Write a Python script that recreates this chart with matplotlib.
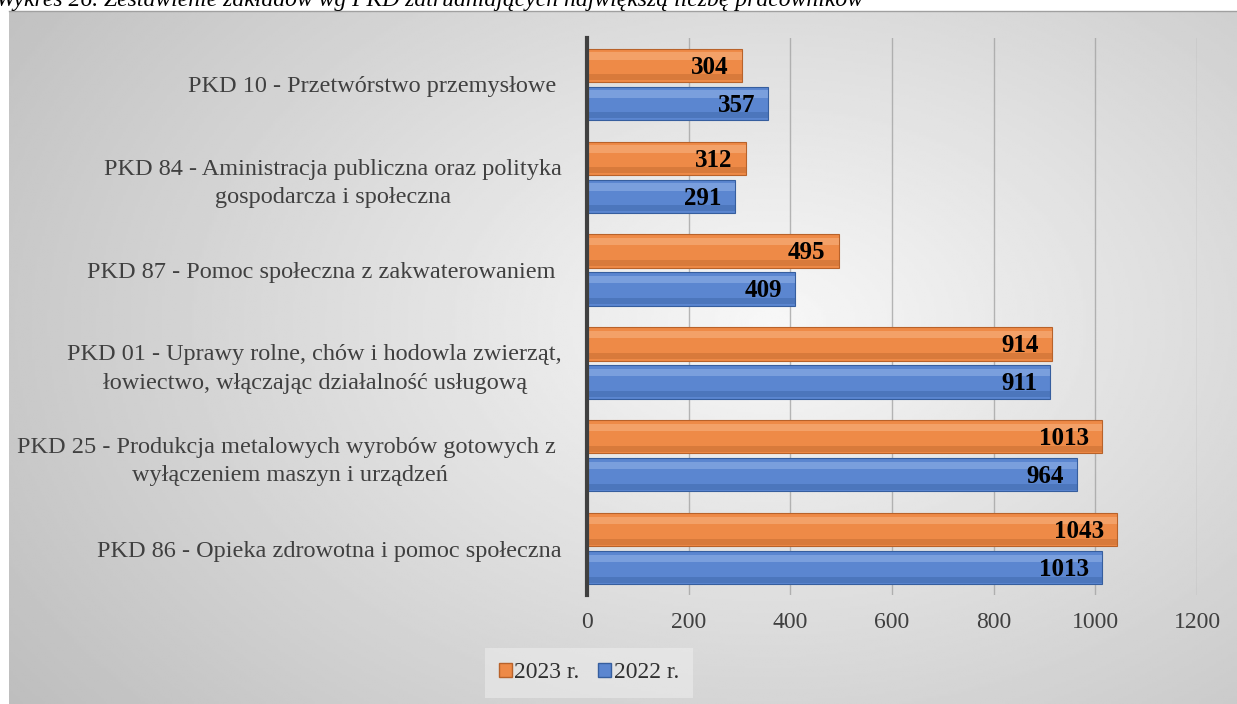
import numpy as np
import matplotlib
matplotlib.use("Agg")
import matplotlib.pyplot as plt
from matplotlib.patches import Patch

plt.rcParams['font.family'] = ['Liberation Serif', 'DejaVu Serif']

# Data (top to bottom as in the chart)
categories = [
    "PKD 10 - Przetwórstwo przemysłowe ",
    "PKD 84 - Aministracja publiczna oraz polityka\ngospodarcza i społeczna",
    "PKD 87 - Pomoc społeczna z zakwaterowaniem ",
    "PKD 01 - Uprawy rolne, chów i hodowla zwierząt,\nłowiectwo, włączając działalność usługową",
    "PKD 25 - Produkcja metalowych wyrobów gotowych z \nwyłączeniem maszyn i urządzeń",
    "PKD 86 - Opieka zdrowotna i pomoc społeczna",
]
values_2023 = [304, 312, 495, 914, 1013, 1043]
values_2022 = [357, 291, 409, 911, 964, 1013]
xticks = [0, 200, 400, 600, 800, 1000, 1200]

orange = "#EE8A47"
orange_hi = "#F8B27F"
orange_dk = "#B8622A"
blue = "#5B86D0"
blue_hi = "#8FB0E6"
blue_dk = "#365E9E"

fig = plt.figure(figsize=(12.37, 7.04), dpi=100)

# gray gradient background of the chart area
bg = fig.add_axes([9 / 1237, 0, 1 - 9 / 1237, 1 - 11 / 704])
yy, xx = np.mgrid[0:1:300j, 0:1:500j]
r = np.sqrt(((xx - 0.62) / 0.75) ** 2 + ((yy - 0.45) / 0.9) ** 2)
shade = np.clip(0.97 - 0.22 * r, 0.74, 0.97)
bg.imshow(shade, cmap="gray", vmin=0, vmax=1, aspect="auto", extent=[0, 1, 0, 1])
bg.set_xticks([])
bg.set_yticks([])
for s in ["left", "right", "bottom"]:
    bg.spines[s].set_visible(False)
bg.spines["top"].set_color("#a0a0a0")
bg.spines["top"].set_linewidth(1.0)

# caption, cut off at the top of the picture (as in the source)
fig.text(-0.003, 0.999, "Wykres 26. Zestawienie zakładów wg PKD zatrudniających największą liczbę pracowników",
         ha="left", va="center", fontsize=17, style="italic", color="black")

ax = fig.add_axes([587 / 1237, 1 - 595 / 704, (1197 - 587) / 1237, (595 - 38) / 704])
ax.patch.set_alpha(0)

y = np.arange(len(categories))
h = 0.36
off = 0.205

def bevel_bars(ys, vals, base, hi, dk, label):
    ax.barh(ys, vals, height=h, color=base, edgecolor=dk, linewidth=0.8, zorder=3, label=label)
    ax.barh(ys - h * 0.28, vals, height=h * 0.22, color=hi, linewidth=0, zorder=4, alpha=0.6)
    ax.barh(ys + h * 0.36, vals, height=h * 0.18, color=dk, linewidth=0, zorder=4, alpha=0.4)

bevel_bars(y - off, values_2023, orange, orange_hi, orange_dk, "2023 r.")
bevel_bars(y + off, values_2022, blue, blue_hi, blue_dk, "2022 r.")

for yi, v in zip(y - off, values_2023):
    ax.text(v - 26, yi + 0.02, str(v), ha="right", va="center", fontsize=18,
            fontweight="bold", color="black", zorder=6)
for yi, v in zip(y + off, values_2022):
    ax.text(v - 26, yi + 0.02, str(v), ha="right", va="center", fontsize=18,
            fontweight="bold", color="black", zorder=6)

ax.set_xlim(0, 1200)
ax.set_ylim(len(categories) - 0.5, -0.5)
ax.set_xticks(xticks)
ax.set_xticklabels([str(t) for t in xticks], fontsize=17, color="#404040")
ax.set_yticks(y)
ax.set_yticklabels(categories, fontsize=17.5, color="#404040", linespacing=1.45,
                   multialignment="center")
ax.tick_params(axis="x", length=0, pad=12)
ax.tick_params(axis="y", length=0, pad=18)
ax.xaxis.grid(True, color="#a0a0a0", linewidth=1.0, zorder=5, alpha=0.75)
ax.set_axisbelow(False)
for s in ["top", "right", "bottom"]:
    ax.spines[s].set_visible(False)
ax.spines["left"].set_color("#404040")
ax.spines["left"].set_linewidth(3)
ax.spines["left"].set_zorder(7)

handles = [Patch(facecolor=orange, edgecolor=orange_dk, label="2023 r."),
           Patch(facecolor=blue, edgecolor=blue_dk, label="2022 r.")]
fig.legend(handles=handles, loc="center", bbox_to_anchor=(589 / 1237, 1 - 673 / 704), ncol=2,
           fontsize=17, frameon=True, facecolor="#f0f0f0", edgecolor="none", framealpha=0.5,
           handlelength=0.55, handleheight=0.55, handletextpad=0.1, columnspacing=0.8,
           labelcolor="#303030", borderpad=0.6, fancybox=False)

fig.savefig("out.png", dpi=100)
